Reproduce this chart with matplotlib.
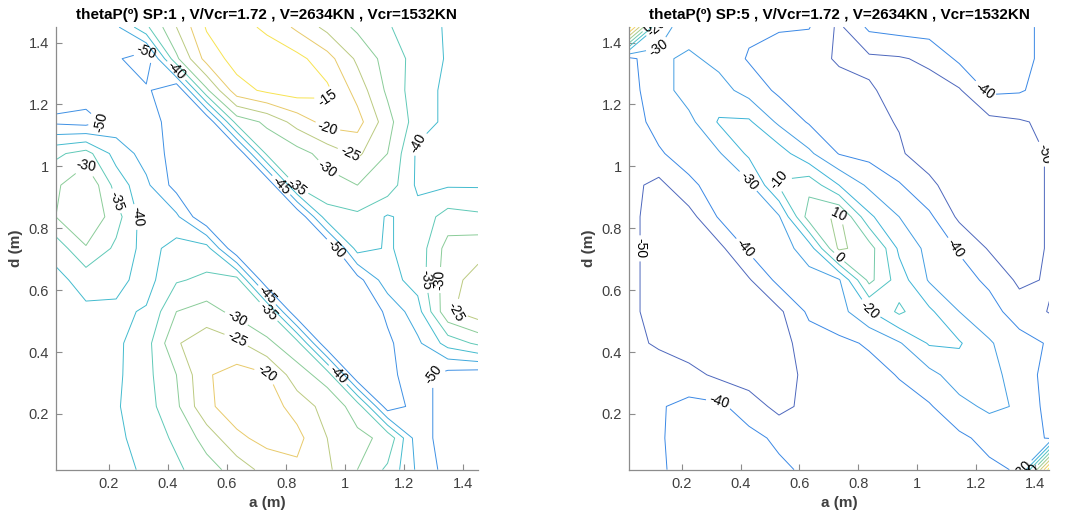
import numpy as np
import matplotlib
matplotlib.use("Agg")
import matplotlib.pyplot as plt
from matplotlib.colors import LinearSegmentedColormap, Normalize

plt.rcParams["font.family"] = ["Liberation Sans", "DejaVu Sans"]

# grid nodes (m)
a_nodes = np.linspace(0.02, 1.45, 15)
d_nodes = np.linspace(0.02, 1.45, 15)

# thetaP values, rows from d=1.45 (top) down to d=0.02
theta_sp1 = [
    [-47, -47, -46, -36, -25, -14.5, -13, -16, -21, -26.5, -31, -34.5, -38, -40.5, -42],
    [-47, -47, -49, -54, -31, -18, -13, -12, -13.5, -18, -26, -32, -37, -40.5, -42],
    [-47, -47, -47, -49, -55, -31, -17, -14, -12.5, -14, -22, -31, -38, -41, -42],
    [-51, -52, -48, -48, -52, -55, -33, -29, -23, -18, -18, -28, -38, -41, -42.5],
    [-36, -33, -42, -47, -52, -55, -55, -34, -32, -28, -24, -30, -41, -42, -42],
    [-31, -25, -37, -44, -52, -55, -55, -55, -34, -32, -30, -32, -41, -40.5, -40.5],
    [-30, -25, -33, -43, -44, -55, -55, -55, -55, -37, -36, -40.5, -38, -33, -34],
    [-38, -30.5, -36, -42, -38, -38, -55, -55, -55, -55, -38, -40.5, -38, -28, -27],
    [-41.5, -38, -38.5, -42, -35.5, -34, -33, -55, -55, -55, -52, -42, -38, -27, -23],
    [-42, -41, -41, -39.5, -30, -28, -31.5, -34, -55, -55, -55, -49, -42, -26, -22],
    [-42, -42, -41, -37, -25.5, -22, -24, -29, -33, -55, -55, -51, -46, -38, -34],
    [-42, -42, -41, -36.5, -30, -20.5, -18, -19.5, -28, -32, -55, -51, -48, -52, -53],
    [-42, -42, -40.5, -37, -31, -21, -17.5, -17.5, -22, -27, -32, -53, -48, -52, -53],
    [-42, -42, -41, -38, -34, -28, -21, -18.5, -18.5, -25, -29, -31, -48, -52, -53],
    [-42, -42, -41, -39.5, -36, -32, -28, -23, -21, -24, -30, -36, -46, -52, -53],
]

theta_sp5 = [
    [45, -26, -35, -36, -38, -39, -39.5, -52, -38, -36, -35, -35, -36, -38, -42],
    [-43, -32, -28, -33, -41, -45, -47, -51, -52, -51, -48, -38, -36, -37, -43],
    [-43, -35, -25, -26, -34, -42, -47, -47, -49, -53, -54, -51, -38, -39, -44],
    [-44, -37, -33, -19, -18.5, -32, -41, -46, -48, -50.5, -55, -55, -53, -51, -48],
    [-45, -41, -36, -31, -18, -15, -28, -40.5, -43, -49, -54, -55, -55, -55, -49],
    [-47, -53, -42, -36, -32, -9, -3, -20, -32, -39, -48, -55, -55, -55, -49],
    [-47, -55, -54, -39, -34, -31, 5, 12, -18, -30, -38, -52, -55, -55, -49],
    [-47, -55, -55, -53, -38, -34, -26, 12, 5, -22, -33, -41, -51, -55, -49],
    [-47, -55, -55, -55, -51, -37, -33, -31, 3, -15, -31, -36, -42, -52, -49],
    [-47, -55, -55, -55, -55, -52, -38, -34, -21, -8, -18, -30, -36, -45, -50.5],
    [-46, -52, -55, -55, -55, -54, -45, -42, -39, -31, -19, -19, -29, -36, -41],
    [-45, -42, -47, -52, -55, -55, -47, -45, -43, -39.5, -33, -25, -27, -34, -44],
    [-45, -41, -37, -38, -45, -53, -47, -46, -45, -43, -41, -33, -28, -31, -44],
    [-45, -41, -36, -36, -37, -42, -45, -46, -45, -44, -42, -42, -37, -35, -41],
    [-45, -41.5, -36, -35, -36, -38, -42, -45, -45, -44, -44, -43, -42, -39, 45],
]

levels_sp1 = [-50, -45, -40, -35, -30, -25, -20, -15]
levels_sp5 = [-50, -40, -30, -20, -10, 0, 10, 20, 30, 40]

tick_vals = [0.2, 0.4, 0.6, 0.8, 1.0, 1.2, 1.4]
tick_text = ["0.2", "0.4", "0.6", "0.8", "1", "1.2", "1.4"]

title_sp1 = "thetaP(º) SP:1 , V/Vcr=1.72 , V=2634KN , Vcr=1532KN"
title_sp5 = "thetaP(º) SP:5 , V/Vcr=1.72 , V=2634KN , Vcr=1532KN"

# rough parula, a little washed out like the screenshot
_anchors = [
    (0.00, (0.208, 0.166, 0.529)),
    (0.12, (0.020, 0.380, 0.880)),
    (0.25, (0.080, 0.520, 0.860)),
    (0.37, (0.040, 0.640, 0.800)),
    (0.50, (0.180, 0.730, 0.670)),
    (0.62, (0.420, 0.750, 0.500)),
    (0.74, (0.680, 0.740, 0.370)),
    (0.86, (0.930, 0.740, 0.250)),
    (1.00, (0.976, 0.930, 0.080)),
]
parula = LinearSegmentedColormap.from_list(
    "parula", [(p, tuple(0.8 * c + 0.2 for c in rgb)) for p, rgb in _anchors])

fig = plt.figure(figsize=(10.73, 5.21), dpi=100)
ax1 = fig.add_axes([0.052, 0.0985, 0.3935, 0.8495])
ax2 = fig.add_axes([0.586, 0.0985, 0.392, 0.8495])

A, D = np.meshgrid(a_nodes, d_nodes)


def draw(ax, z, levels, vmin, vmax, title):
    Z = np.flipud(np.array(z, dtype=float))
    cs = ax.contour(A, D, Z, levels=levels, cmap=parula,
                    norm=Normalize(vmin=vmin, vmax=vmax), linewidths=0.7)
    ax.clabel(cs, inline=True, fontsize=10, fmt="%d", inline_spacing=3, colors="k")
    ax.set_xlim(0.02, 1.45)
    ax.set_ylim(0.02, 1.45)
    ax.set_xticks(tick_vals)
    ax.set_xticklabels(tick_text)
    ax.set_yticks(tick_vals)
    ax.set_yticklabels(tick_text)
    for side in ("top", "right"):
        ax.spines[side].set_visible(False)
    for side in ("left", "bottom"):
        ax.spines[side].set_color("#8c8c8c")
        ax.spines[side].set_linewidth(0.9)
    ax.tick_params(direction="in", length=4, width=0.8, color="#8c8c8c",
                   labelsize=10.5, labelcolor="#404040", pad=5)
    ax.set_xlabel("a (m)", fontsize=11, fontweight="bold", color="#404040", labelpad=4)
    ax.set_ylabel("d (m)", fontsize=11, fontweight="bold", color="#404040", labelpad=4)
    ax.set_title(title, fontsize=11, fontweight="bold", pad=6)


draw(ax1, theta_sp1, levels_sp1, -59, -12.5, title_sp1)
draw(ax2, theta_sp5, levels_sp5, -55, 42, title_sp5)

fig.savefig("out.png", dpi=100)
